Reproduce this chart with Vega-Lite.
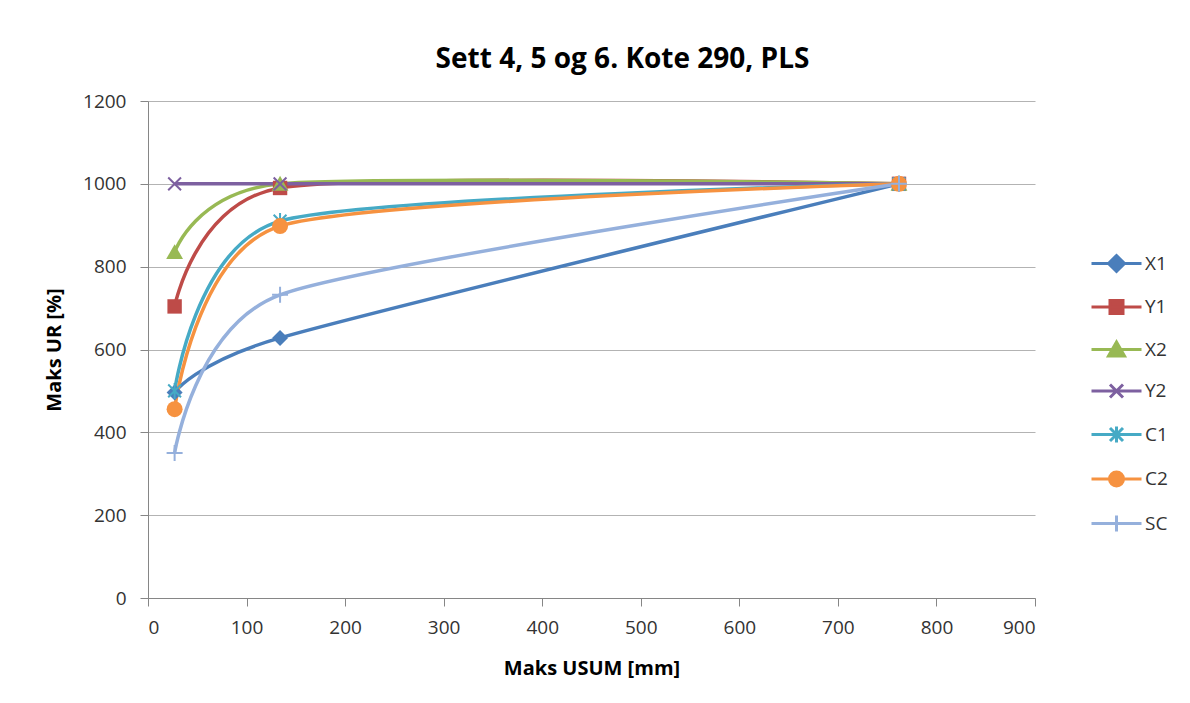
{
  "$schema": "https://vega.github.io/schema/vega-lite/v6.json",
  "width": 887,
  "height": 497,
  "autosize": {"type": "none"},
  "padding": {"left": 148, "top": 101, "right": 155, "bottom": 105},
  "background": "white",
  "title": {
    "text": "Sett 4, 5 og 6. Kote 290, PLS",
    "anchor": "middle",
    "dx": 31,
    "offset": 18,
    "font": "Open Sans",
    "fontSize": 28,
    "fontWeight": "bold",
    "color": "#000000"
  },
  "config": {
    "view": {"stroke": null},
    "font": "Open Sans",
    "axis": {
      "domainColor": "#868686",
      "tickColor": "#868686",
      "gridColor": "#b3b3b3",
      "labelFont": "Open Sans",
      "labelFontSize": 19,
      "labelColor": "#333333",
      "titleFont": "Open Sans",
      "titleFontSize": 20,
      "titleFontWeight": "bold",
      "titleColor": "#000000",
      "tickSize": 8,
      "format": "d"
    }
  },
  "data": {
    "values": [
      {"series": "X1", "usum": 27, "ur": 496},
      {"series": "X1", "usum": 134, "ur": 628},
      {"series": "X1", "usum": 762, "ur": 1000},
      {"series": "Y1", "usum": 27, "ur": 704},
      {"series": "Y1", "usum": 134, "ur": 990},
      {"series": "Y1", "usum": 762, "ur": 1000},
      {"series": "X2", "usum": 27, "ur": 835},
      {"series": "X2", "usum": 134, "ur": 1000},
      {"series": "X2", "usum": 762, "ur": 1000},
      {"series": "Y2", "usum": 27, "ur": 1000},
      {"series": "Y2", "usum": 134, "ur": 1000},
      {"series": "Y2", "usum": 762, "ur": 1000},
      {"series": "C1", "usum": 27, "ur": 500},
      {"series": "C1", "usum": 134, "ur": 910},
      {"series": "C1", "usum": 762, "ur": 1000},
      {"series": "C2", "usum": 27, "ur": 456},
      {"series": "C2", "usum": 134, "ur": 898},
      {"series": "C2", "usum": 762, "ur": 1000},
      {"series": "SC", "usum": 27, "ur": 350},
      {"series": "SC", "usum": 134, "ur": 732},
      {"series": "SC", "usum": 762, "ur": 1000}
    ]
  },
  "encoding": {
    "x": {
      "field": "usum",
      "type": "quantitative",
      "title": "Maks USUM [mm]",
      "scale": {"domain": [0, 900], "nice": false, "zero": false},
      "axis": {
        "values": [0, 100, 200, 300, 400, 500, 600, 700, 800, 900],
        "grid": false,
        "labelPadding": 12,
        "titlePadding": 21
      }
    },
    "y": {
      "field": "ur",
      "type": "quantitative",
      "title": "Maks UR [%]",
      "scale": {"domain": [0, 1200], "nice": false},
      "axis": {
        "values": [0, 200, 400, 600, 800, 1000, 1200],
        "grid": true,
        "labelPadding": 14,
        "titlePadding": 18
      }
    },
    "color": {
      "field": "series",
      "type": "nominal",
      "scale": {
        "domain": ["X1", "Y1", "X2", "Y2", "C1", "C2", "SC"],
        "range": ["#4a7ebb", "#be4b48", "#98b954", "#7d60a0", "#46aac5", "#f69240", "#95b0dc"]
      },
      "legend": {
        "title": null,
        "orient": "none",
        "legendX": 957,
        "legendY": 151,
        "symbolSize": 400,
        "rowPadding": 16.5,
        "labelOffset": 17,
        "labelFont": "Open Sans",
        "labelFontSize": 19,
        "labelColor": "#333333",
        "encode": {
          "symbols": {
            "update": {
              "shape": {"signal": "datum.value === 'X1' ? 'M-2.5,0L2.5,0M0,-0.8L0.8,0L0,0.8L-0.8,0Z' : datum.value === 'Y1' ? 'M-2.5,0L2.5,0M-0.65,-0.65L0.65,-0.65L0.65,0.65L-0.65,0.65Z' : datum.value === 'X2' ? 'M-2.5,0L2.5,0M0,-0.75L0.8,0.65L-0.8,0.65Z' : datum.value === 'Y2' ? 'M-2.5,0L2.5,0M-0.65,-0.65L0.65,0.65M-0.65,0.65L0.65,-0.65' : datum.value === 'C1' ? 'M-2.5,0L2.5,0M-0.65,-0.65L0.65,0.65M-0.65,0.65L0.65,-0.65M0,-0.8L0,0.8' : datum.value === 'C2' ? 'M-2.5,0L2.5,0M0.7,0A0.7,0.7,0,1,1,-0.7,0A0.7,0.7,0,1,1,0.7,0Z' : 'M-2.5,0L2.5,0M0,-0.8L0,0.8'"},
              "size": {"value": 400},
              "fill": {"scale": "color", "field": "value"},
              "stroke": {"scale": "color", "field": "value"},
              "strokeWidth": {"value": 3},
              "opacity": {"value": 1},
              "fillOpacity": {"value": 1}
            }
          }
        }
      }
    }
  },
  "layer": [
    {
      "mark": {"type": "line", "interpolate": "cardinal", "tension": 0.3, "strokeWidth": 3.5}
    },
    {
      "transform": [{"filter": "datum.series === 'X1'"}],
      "mark": {"type": "point", "shape": "M0,-1L1,0L0,1L-1,0Z", "filled": true, "opacity": 1, "size": 256}
    },
    {
      "transform": [{"filter": "datum.series === 'Y1'"}],
      "mark": {"type": "point", "shape": "M-0.9,-0.9L0.9,-0.9L0.9,0.9L-0.9,0.9Z", "filled": true, "opacity": 1, "size": 256}
    },
    {
      "transform": [{"filter": "datum.series === 'X2'"}],
      "mark": {"type": "point", "shape": "M0,-1L1.05,0.85L-1.05,0.85Z", "filled": true, "opacity": 1, "size": 256}
    },
    {
      "transform": [{"filter": "datum.series === 'Y2'"}],
      "mark": {"type": "point", "shape": "M-0.8,-0.8L0.8,0.8M-0.8,0.8L0.8,-0.8", "filled": false, "opacity": 1, "size": 256, "strokeWidth": 2}
    },
    {
      "transform": [{"filter": "datum.series === 'C1'"}],
      "mark": {"type": "point", "shape": "M-0.8,-0.8L0.8,0.8M-0.8,0.8L0.8,-0.8M0,-1L0,1", "filled": false, "opacity": 1, "size": 256, "strokeWidth": 2}
    },
    {
      "transform": [{"filter": "datum.series === 'C2'"}],
      "mark": {"type": "point", "shape": "circle", "filled": true, "opacity": 1, "size": 256}
    },
    {
      "transform": [{"filter": "datum.series === 'SC'"}],
      "mark": {"type": "point", "shape": "M-1,0L1,0M0,-1L0,1", "filled": false, "opacity": 1, "size": 256, "strokeWidth": 2}
    }
  ]
}
